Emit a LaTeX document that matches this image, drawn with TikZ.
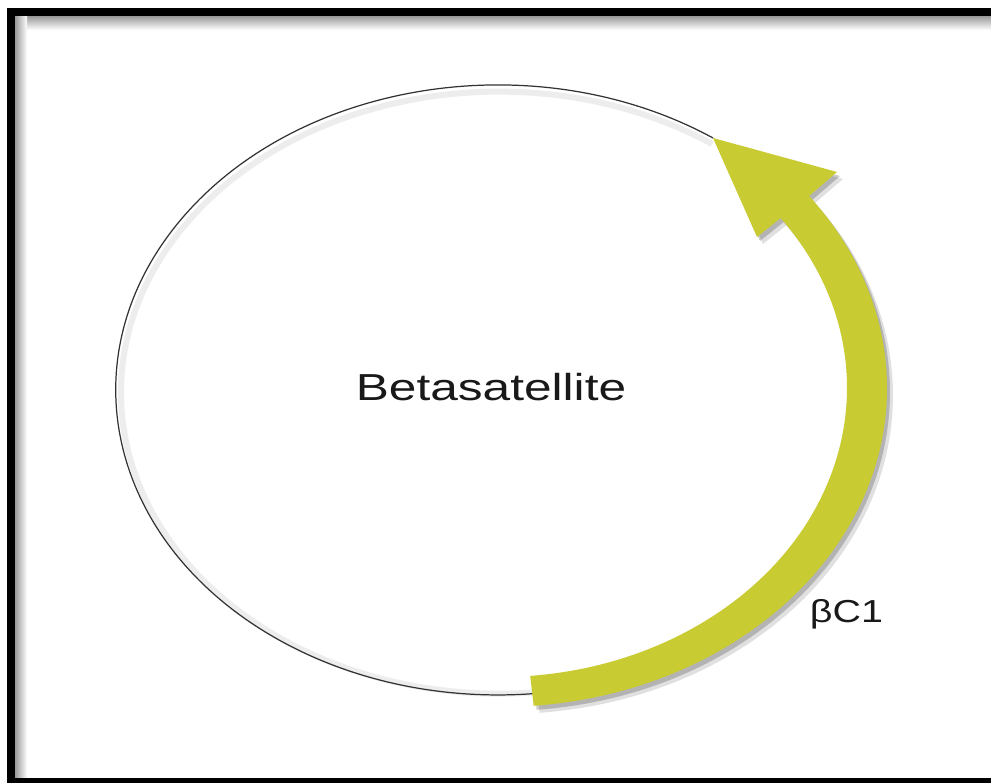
\documentclass[tikz,border=0pt]{standalone}
\usepackage{fontspec}
\setmainfont{Liberation Sans}
\definecolor{genegreen}{RGB}{201,203,50}
\begin{document}
\begin{tikzpicture}[x=0.02cm, y=-0.02cm,
  plasmidtext/.style={text=black!90, inner sep=0pt}]

\clip (0,0) rectangle (991,783);
\fill[white] (0,0) rectangle (991,783);

% frame with inner shadow
\shade[top color=black!40, bottom color=white] (15,16) rectangle (991,30);
\shade[left color=black!40, right color=white] (15,16) rectangle (27,778);
\draw[line width=0.16cm] (11,12) rectangle (1000,782);

% plasmid circle
\coordinate (tip) at (713,138);
\draw[black!7, line width=0.12cm] (712,144) arc[start angle=-55.7, end angle=-276, x radius=378, y radius=301];
\draw[black!80, line width=0.7pt] (tip) arc[start angle=-55.7, end angle=-276, x radius=382, y radius=305];

% gene arrow
\fill[genegreen,
  preaction={fill=black, opacity=0.12, transform canvas={shift={(6,7)}}},
  preaction={fill=black, opacity=0.2, transform canvas={shift={(3,4)}}}]
  (533.7,705.8) arc[start angle=85, end angle=-37, x radius=387, y radius=319]
  -- (837,172) -- (tip) -- (757,237) -- (780.7,218.1)
  arc[start angle=-36, end angle=85, x radius=347, y radius=289] -- cycle;

% labels
\node[plasmidtext, font=\fontsize{21.4}{24}\selectfont, xscale=1.32] (name) at (491,387) {Betasatellite};
\node[plasmidtext, font=\fontsize{18.1}{21}\selectfont, xscale=1.24, anchor=base] (gene) at (846.5,623) {βC1};

\end{tikzpicture}
\end{document}
